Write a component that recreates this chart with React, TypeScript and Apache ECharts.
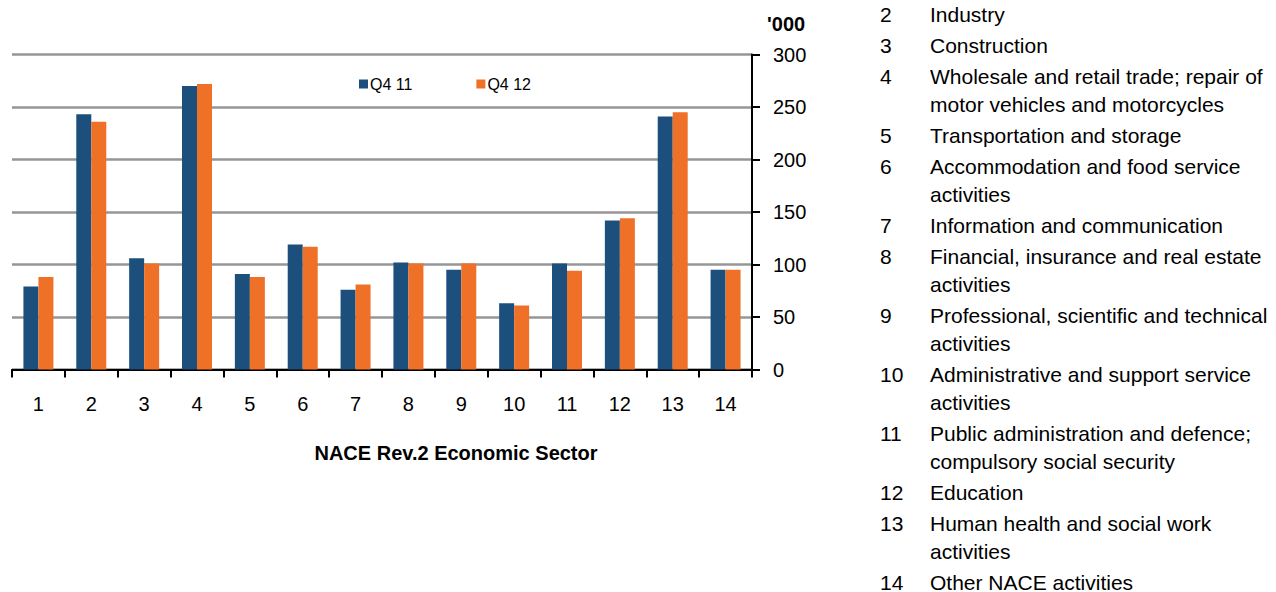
import React, { useEffect, useRef } from "react";
import * as echarts from "echarts";

const categories = ["1", "2", "3", "4", "5", "6", "7", "8", "9", "10", "11", "12", "13", "14"];
const q411 = [79, 243, 106, 270, 91, 119, 76, 102, 95, 63, 101, 142, 241, 95];
const q412 = [88, 236, 101, 272, 88, 117, 81, 101, 101, 61, 94, 144, 245, 95];
const seriesNames = ["Q4 11", "Q4 12"];
const yTicks = { min: 0, max: 300, interval: 50 };
const unitLabel = "'000";
const xTitle = "NACE Rev.2 Economic Sector";
const sectorKey: { num: string; lines: string[] }[] = [
  { num: "2", lines: ["Industry"] },
  { num: "3", lines: ["Construction"] },
  { num: "4", lines: ["Wholesale and retail trade; repair of", "motor vehicles and motorcycles"] },
  { num: "5", lines: ["Transportation and storage"] },
  { num: "6", lines: ["Accommodation and food service", "activities"] },
  { num: "7", lines: ["Information and communication"] },
  { num: "8", lines: ["Financial, insurance and real estate", "activities"] },
  { num: "9", lines: ["Professional, scientific and technical", "activities"] },
  { num: "10", lines: ["Administrative and support service", "activities"] },
  { num: "11", lines: ["Public administration and defence;", "compulsory social security"] },
  { num: "12", lines: ["Education"] },
  { num: "13", lines: ["Human health and social work", "activities"] },
  { num: "14", lines: ["Other NACE activities"] },
];

const FONT = "'Liberation Sans', Arial, sans-serif";
const BLUE = "#1d4f7c";
const ORANGE = "#ef7128";

export default function App() {
  const ref = useRef<HTMLDivElement>(null);
  useEffect(() => {
    if (!ref.current) return;
    const chart = echarts.init(ref.current, undefined, { renderer: "svg" });

    const graphics: any[] = [];
    let y = 14;
    sectorKey.forEach((item) => {
      graphics.push({
        type: "text",
        x: 880,
        y,
        style: { text: item.num, font: `21px ${FONT}`, fill: "#000", textVerticalAlign: "middle", textAlign: "left" },
      });
      item.lines.forEach((ln, i) => {
        graphics.push({
          type: "text",
          x: 930,
          y: y + i * 28,
          style: { text: ln, font: `21px ${FONT}`, fill: "#000", textVerticalAlign: "middle", textAlign: "left" },
        });
      });
      y += 31 + 28 * (item.lines.length - 1);
    });
    graphics.push({
      type: "text",
      x: 767,
      y: 24,
      style: { text: unitLabel, font: `bold 20px ${FONT}`, fill: "#000", textVerticalAlign: "middle", textAlign: "left" },
    });
    graphics.push({
      type: "text",
      x: 456,
      y: 453,
      style: { text: xTitle, font: `bold 20px ${FONT}`, fill: "#000", textVerticalAlign: "middle", textAlign: "center" },
    });

    chart.setOption({
      animation: false,
      backgroundColor: "#fff",
      textStyle: { fontFamily: FONT },
      grid: { left: 12, right: 524, top: 54.5, bottom: 222.5, containLabel: false },
      legend: {
        left: 354,
        top: 71,
        itemWidth: 9,
        itemHeight: 9,
        itemGap: 64,
        icon: "rect",
        textStyle: { fontSize: 16, color: "#000", fontFamily: FONT, padding: [0, 0, 0, -3] },
        data: seriesNames,
      },
      xAxis: {
        type: "category",
        data: categories,
        axisLine: { lineStyle: { color: "#000", width: 2 } },
        axisTick: { show: true, length: 8, lineStyle: { color: "#000", width: 2 } },
        axisLabel: { fontSize: 20, color: "#000", margin: 24, fontFamily: FONT },
      },
      yAxis: {
        type: "value",
        position: "right",
        min: yTicks.min,
        max: yTicks.max,
        interval: yTicks.interval,
        axisLine: { show: true, lineStyle: { color: "#000", width: 2 } },
        axisTick: { show: true, length: 8, lineStyle: { color: "#000", width: 2 } },
        axisLabel: { fontSize: 20, color: "#000", margin: 21, fontFamily: FONT },
        splitLine: { show: true, lineStyle: { color: "#969696", width: 2.5 } },
      },
      series: [
        { name: seriesNames[0], type: "bar", data: q411, barWidth: 15, barGap: "0%", itemStyle: { color: BLUE } },
        { name: seriesNames[1], type: "bar", data: q412, barWidth: 15, barGap: "0%", itemStyle: { color: ORANGE } },
      ],
      graphic: graphics,
    });
    return () => chart.dispose();
  }, []);
  return <div ref={ref} style={{ position: "fixed", left: 0, top: 0, width: 1276, height: 592 }} />;
}
